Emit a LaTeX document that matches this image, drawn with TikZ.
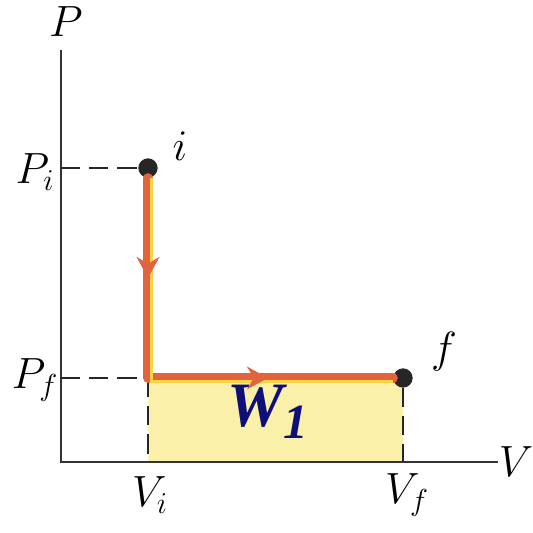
\documentclass[tikz,border=0pt]{standalone}
\usepackage{fontspec}
\newfontfamily\wfont{Liberation Serif}
\usetikzlibrary{decorations.markings,arrows.meta}
\definecolor{fillyel}{RGB}{250,240,170}
\definecolor{pathred}{RGB}{225,100,60}
\definecolor{pathyel}{RGB}{250,210,70}
\definecolor{navy}{RGB}{15,15,120}
\tikzset{
  axis/.style={line width=1.3pt,black!80},
  guide/.style={line width=0.9pt,black!85,dash pattern=on 11pt off 5pt},
  lbl/.style={font=\fontsize{23}{27}\selectfont,inner sep=0pt},
  dot/.style={circle,fill=black!85,minimum size=11pt,inner sep=0pt},
  procpath/.style={line width=5.5pt,pathred,line cap=round,line join=round},
  arrmark/.style={postaction={decorate},decoration={markings,mark=at position #1 with {\arrow[pathred,line width=1.5pt]{Stealth[length=12pt,width=13pt]}}}}
}
\begin{document}
\begin{tikzpicture}[x=0.02cm,y=-0.02cm]
\useasboundingbox[fill=white] (0,0) rectangle (533,533);
% fill area
\fill[fillyel] (148,378) rectangle (403,462);
% axes
\coordinate (O) at (61,462);
\coordinate (Ptop) at (61,50);
\coordinate (Vend) at (498,462);
\draw[axis] (Ptop) -- (O) -- (Vend);
\node[lbl] (P) at (66,22) {$P$};
\node[lbl] (V) at (516,462) {$V$};
% states
\node[dot] (i) at (148,168) {};
\node[dot] (f) at (403,378) {};
\coordinate (c) at (148,378);
\coordinate (pi) at (61,168);
\coordinate (pf) at (61,378);
\coordinate (vi) at (148,462);
\coordinate (vf) at (403,462);
% guides
\draw[guide] (pi) -- (i.west);
\draw[guide] (pf) -- (c);
\draw[guide] (c) -- (vi);
\draw[guide] (f.south) -- (vf);
% path
\draw[procpath] (i.south) -- (c) -- (f.west);
\draw[line width=1.6pt,pathyel] ([xshift=2.2pt]i.south) -- ([xshift=2.2pt,yshift=-2.2pt]c) -- ([yshift=-2.2pt]f.west);
\path[arrmark=0.5] (i.south) -- (c);
\path[arrmark=0.49] (c) -- (f.west);
% labels
\node[lbl] (Pi) at (35,172) {$P_i$};
\node[lbl] (Pf) at (35,380) {$P_f$};
\node[lbl] (Vi) at (150,495) {$V_i$};
\node[lbl] (Vf) at (407,495) {$V_f$};
\node[lbl] (il) at (180,146) {$i$};
\node[lbl] (fl) at (444,352) {$f$};
\node[inner sep=0pt,text=navy] (W) at (268,412) {\wfont\bfseries\itshape\fontsize{36}{40}\selectfont W\raisebox{-0.4ex}{\fontsize{28}{30}\selectfont 1}};
\end{tikzpicture}
\end{document}
